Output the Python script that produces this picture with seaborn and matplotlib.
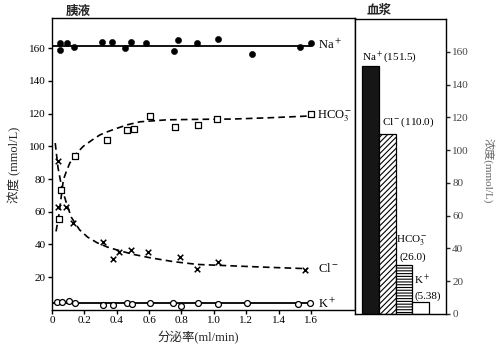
import matplotlib
matplotlib.use('Agg')
import matplotlib.pyplot as plt
import seaborn as sns

# ---------------- data ----------------
na_x = [0.049, 0.051, 0.09, 0.136, 0.309, 0.37, 0.453, 0.488, 0.579, 0.754, 0.78, 0.898, 1.023, 1.233, 1.532, 1.598]
na_y = [163.0, 158.6, 163.0, 160.8, 163.7, 163.5, 160.0, 163.5, 162.9, 158.4, 165.0, 163.4, 165.6, 156.5, 160.6, 163.0]
na_fit_x = [0.0, 1.598]
na_fit_y = [161.5, 161.5]

hco3_x = [0.041, 0.058, 0.142, 0.338, 0.461, 0.505, 0.605, 0.76, 0.904, 1.017, 1.598]
hco3_y = [55.8, 73.4, 94.2, 103.7, 110.0, 110.9, 118.4, 112.1, 113.2, 116.7, 120.0]
hco3_fit_x = [0.025, 0.041, 0.06, 0.07, 0.09, 0.111, 0.15, 0.193, 0.25, 0.296, 0.35, 0.40, 0.47, 0.544, 0.708, 0.9, 1.12, 1.35, 1.58]
hco3_fit_y = [48.0, 57.0, 71.5, 79.5, 85.0, 90.0, 95.5, 100.0, 104.0, 107.0, 109.2, 111.0, 113.3, 115.0, 116.2, 116.5, 116.7, 117.5, 118.5]

cl_x = [0.035, 0.039, 0.085, 0.132, 0.313, 0.375, 0.416, 0.488, 0.595, 0.79, 0.894, 1.027, 1.565]
cl_y = [91.1, 63.2, 62.8, 53.4, 41.4, 31.4, 35.6, 36.5, 35.5, 32.4, 25.3, 29.4, 24.5]
cl_fit_x = [0.02, 0.037, 0.06, 0.09, 0.12, 0.17, 0.22, 0.28, 0.34, 0.40, 0.50, 0.60, 0.75, 0.90, 1.12, 1.35, 1.58]
cl_fit_y = [102.0, 87.0, 75.0, 65.0, 56.5, 49.0, 44.5, 41.0, 38.5, 36.7, 34.0, 32.0, 29.5, 27.8, 26.9, 26.0, 25.2]

k_x = [0.029, 0.06, 0.103, 0.14, 0.317, 0.379, 0.463, 0.496, 0.605, 0.745, 0.795, 0.904, 1.027, 1.203, 1.518, 1.594]
k_y = [5.1, 5.1, 5.7, 4.5, 3.3, 3.1, 4.3, 3.7, 4.1, 4.0, 2.4, 4.0, 3.8, 4.0, 3.6, 4.0]
k_fit_x = [0.0, 1.594]
k_fit_y = [4.1, 4.1]

bar_cats = ['Na', 'Cl', 'HCO3', 'K']
bar_vals = [151.5, 110.0, 29.7, 7.1]
bar_labels = [r'Na$^+$(151.5)', r'Cl$^-$(110.0)', r'HCO$_3^-$', r'K$^+$']
bar_sublabels = ['', '', '(26.0)', '(5.38)']

x_ticks = [0, 0.2, 0.4, 0.6, 0.8, 1.0, 1.2, 1.4, 1.6]
x_tick_labels = ['0', '0.2', '0.4', '0.6', '0.8', '1.0', '1.2', '1.4', '1.6']
yL_ticks = [20, 40, 60, 80, 100, 120, 140, 160]
yR_ticks = [0, 20, 40, 60, 80, 100, 120, 140, 160]

# ---------------- style ----------------
sns.set_theme(style='white')
plt.rcParams['font.family'] = ['Liberation Serif', 'Noto Sans CJK SC']
plt.rcParams['mathtext.fontset'] = 'stix'
plt.rcParams['hatch.linewidth'] = 0.8
plt.rcParams['axes.edgecolor'] = 'black'
plt.rcParams['axes.linewidth'] = 1.0

fig = plt.figure(figsize=(5, 3.55), dpi=100)
axL = fig.add_axes([0.104, 0.127, 0.606, 0.8225])
axR = fig.add_axes([0.71, 0.1155, 0.182, 0.831])

# ---------------- left panel ----------------
sns.lineplot(x=na_fit_x, y=na_fit_y, ax=axL, color='black', lw=1.3, sort=False, estimator=None)
sns.lineplot(x=k_fit_x, y=k_fit_y, ax=axL, color='black', lw=1.3, sort=False, estimator=None)
l1 = sns.lineplot(x=hco3_fit_x, y=hco3_fit_y, ax=axL, color='black', lw=1.2, sort=False, estimator=None).lines[-1]
l1.set_dashes([4, 2.5])
l2 = sns.lineplot(x=cl_fit_x, y=cl_fit_y, ax=axL, color='black', lw=1.2, sort=False, estimator=None).lines[-1]
l2.set_dashes([4, 2.5])

sns.scatterplot(x=na_x, y=na_y, ax=axL, marker='o', color='black', edgecolor='black', s=20, zorder=5)
sns.scatterplot(x=hco3_x, y=hco3_y, ax=axL, marker='s', facecolor='white', edgecolor='black', linewidth=0.9, s=18, zorder=5)
sns.scatterplot(x=cl_x, y=cl_y, ax=axL, marker='x', color='black', linewidth=1.1, s=16, zorder=5)
sns.scatterplot(x=k_x, y=k_y, ax=axL, marker='o', facecolor='white', edgecolor='black', linewidth=0.9, s=18, zorder=5)

axL.set_xlim(0, 1.872)
axL.set_ylim(0, 178.5)
axL.set_xticks(x_ticks)
axL.set_xticklabels(x_tick_labels)
axL.set_yticks(yL_ticks)
axL.tick_params(axis='both', direction='out', length=3, width=1, labelsize=8, colors='black',
                left=True, bottom=True, pad=1.5)
for s in axL.spines.values():
    s.set_visible(True)
    s.set_color('black')

tk = dict(fontsize=9, va='center', ha='left', color='black')
axL.text(1.643, 162.0, r'Na$^+$', **tk)
axL.text(1.635, 118.5, r'HCO$_3^-$', **tk)
axL.text(1.643, 25.5, r'Cl$^-$', **tk)
axL.text(1.643, 4.0, r'K$^+$', **tk)

# ---------------- right panel ----------------
sns.barplot(x=bar_cats, y=bar_vals, ax=axR, width=1.0, color='white', edgecolor='black', linewidth=0.9)
face = ['#161616', 'white', 'white', 'white']
hatches = [None, '//////', '------', None]
for p, fc, h in zip(axR.patches, face, hatches):
    p.set_facecolor(fc)
    p.set_edgecolor('black')
    if h:
        p.set_hatch(h)

axR.set_xlim(-0.918, 4.515)
axR.set_ylim(0, 180)
axR.set_yticks(yR_ticks)
axR.set_xlabel('')
axR.set_ylabel('')
axR.tick_params(axis='y', left=False, labelleft=False, right=True, labelright=True,
                direction='out', length=3, width=1, labelsize=8, labelcolor='#444444', pad=1.5)
axR.tick_params(axis='x', bottom=False, labelbottom=False)
for s in axR.spines.values():
    s.set_visible(True)
    s.set_color('black')

bt = dict(fontsize=8, color='black', ha='left', va='center')
axR.text(-0.5, 156.5, bar_labels[0], **bt)
axR.text(0.72, 117.3, bar_labels[1], **bt)
axR.text(1.55, 45.2, bar_labels[2], **bt)
axR.text(1.72, 34.8, bar_sublabels[2], **bt)
axR.text(2.62, 20.8, bar_labels[3], **bt)
axR.text(2.62, 11.0, bar_sublabels[3], **bt)

# ---------------- titles & axis labels ----------------
fig.text(0.156, 0.968, '胰液', fontsize=9, ha='center', va='center', fontweight='bold')
fig.text(0.758, 0.968, '血浆', fontsize=9, ha='center', va='center', fontweight='bold')
fig.text(0.396, 0.048, '分泌率(ml/min)', fontsize=9, ha='center', va='center')
fig.text(0.03, 0.535, '浓度 (mmol/L)', fontsize=9, ha='center', va='center', rotation=90)
fig.text(0.976, 0.52, '浓度(mmol/L)', fontsize=8, ha='center', va='center', rotation=270, color='#666666')

fig.savefig('out.png', dpi=100)
